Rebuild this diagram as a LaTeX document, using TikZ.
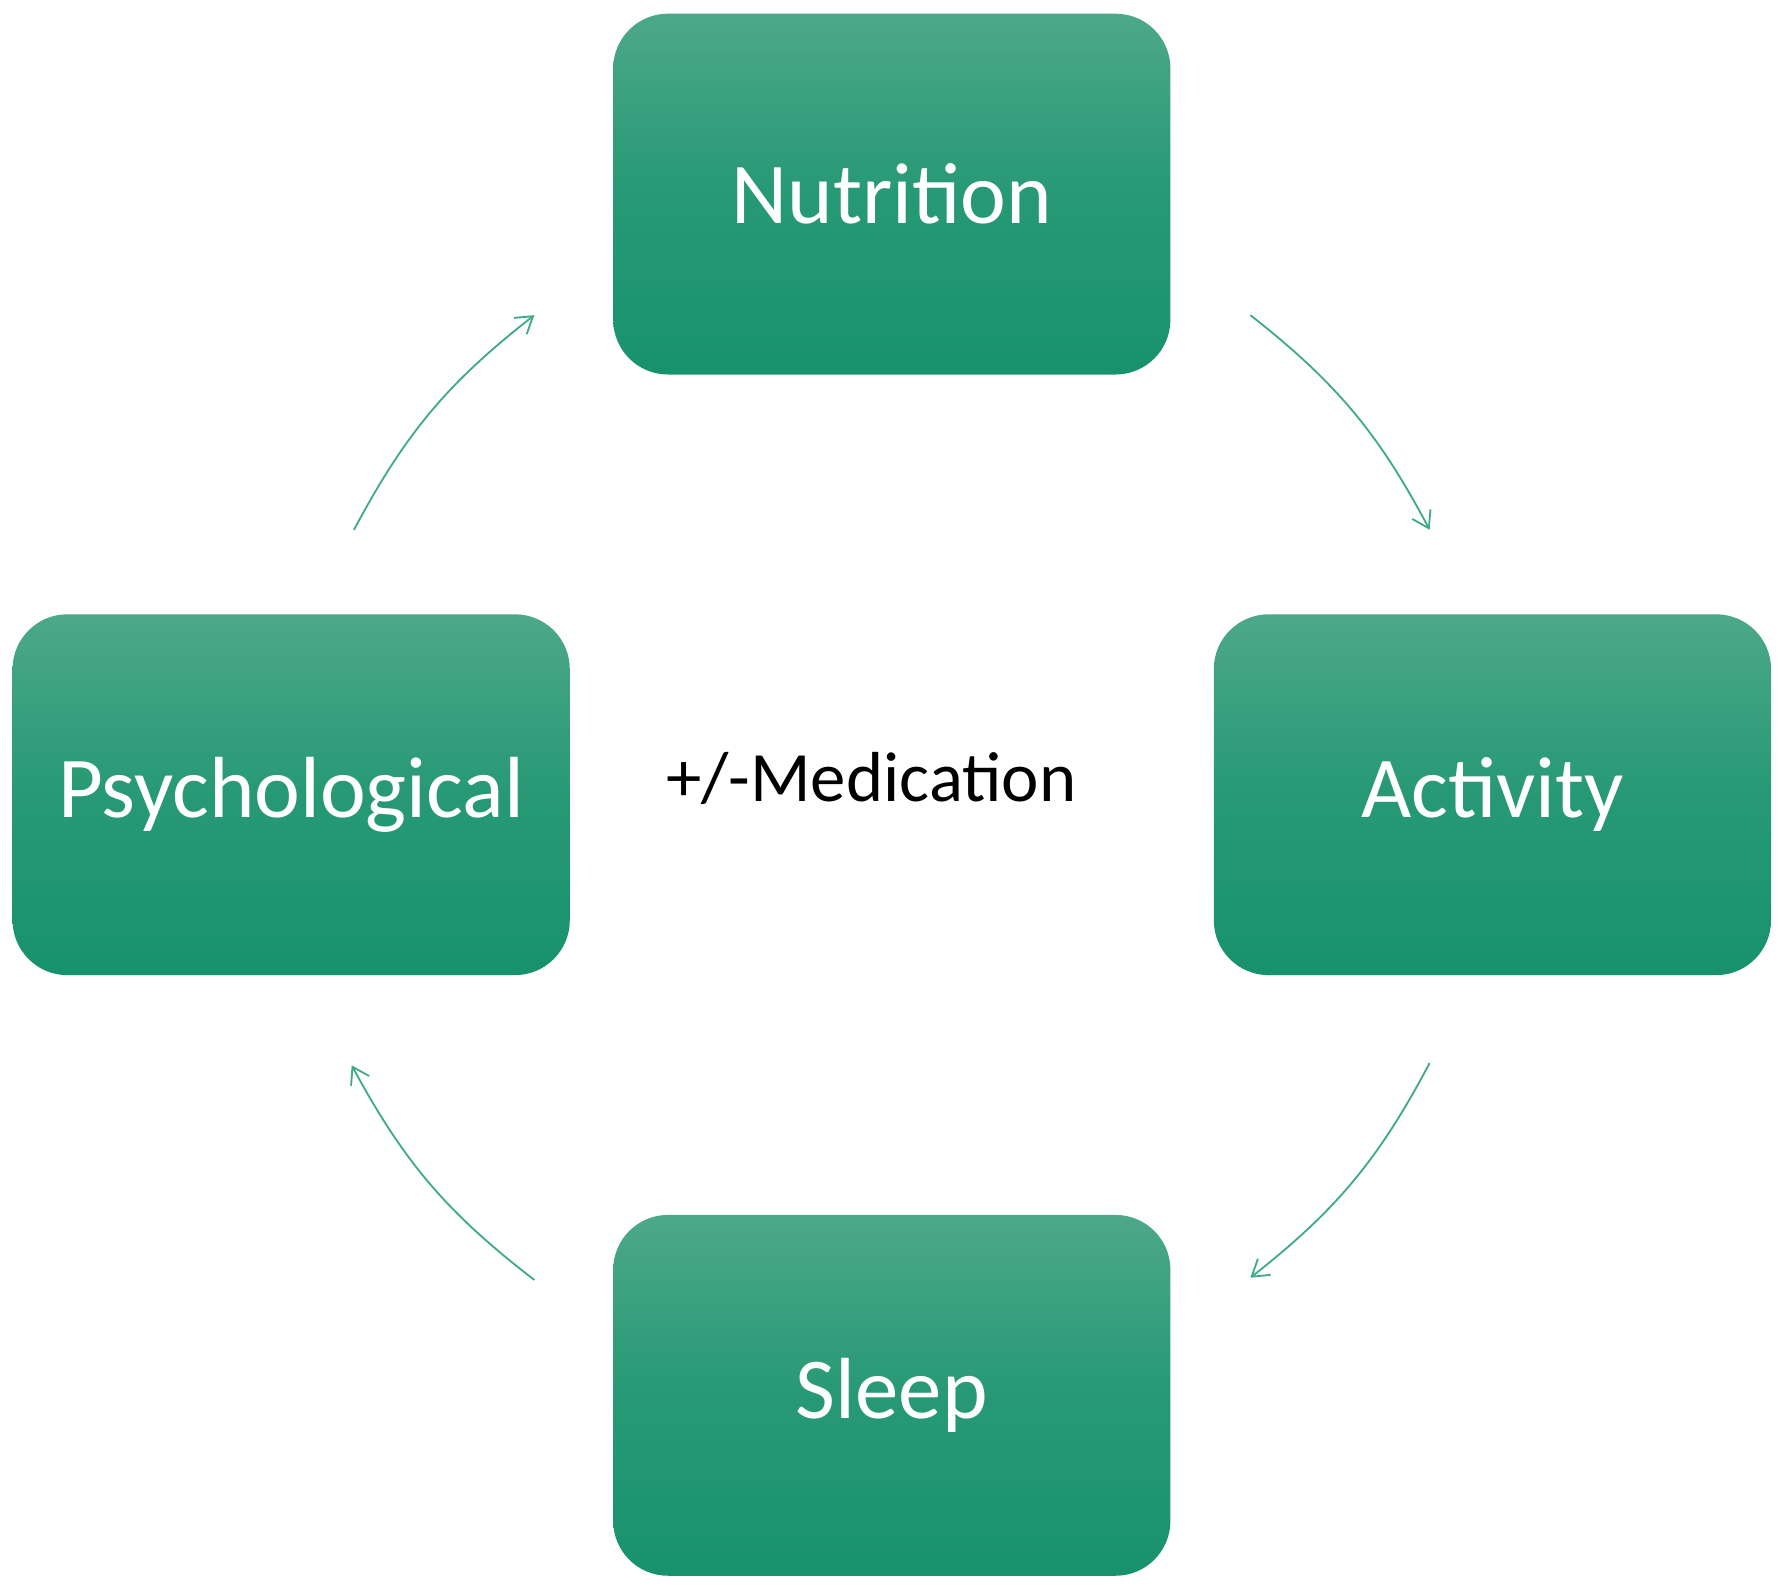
\documentclass[tikz,border=0pt]{standalone}
\usepackage{fontspec}
\setmainfont{Carlito}
\usetikzlibrary{arrows.meta}
\definecolor{gtop}{HTML}{4CA888}
\definecolor{gbot}{HTML}{17926D}
\definecolor{arr}{HTML}{3FAA8A}
\tikzset{
 box/.style={rounded corners=48pt, minimum width=488pt, minimum height=316pt, top color=gtop, bottom color=gbot, middle color=gbot!70!gtop, draw=none, text=white, font=\fontsize{76}{80}\selectfont, inner sep=0pt},
 link/.style={draw=arr, line width=1.6pt, -{Straight Barb[length=14pt,width=18pt]}}
}
\begin{document}
\begin{tikzpicture}[x=1pt,y=1pt]
\useasboundingbox (0,0) rectangle (1565,1391);
\node[box] (nut) at (781,1221) {Nutrition};
\node[box] (psy) at (255,695) {Psychological};
\node[box] (act) at (1307,695) {Activity};
\node[box] (slp) at (781,169) {Sleep};
\node[font=\fontsize{62}{66}\selectfont] (med) at (763,709) {+/-Medication};
\coordinate (a1) at (1095,1115); \coordinate (b1) at (1252,927);
\coordinate (a2) at (1252,460); \coordinate (b2) at (1095,272);
\coordinate (a3) at (468,270); \coordinate (b3) at (308,458);
\coordinate (a4) at (310,927); \coordinate (b4) at (468,1115);
\draw[link] (a1) to[bend left=12] (b1);
\draw[link] (a2) to[bend left=12] (b2);
\draw[link] (a3) to[bend left=12] (b3);
\draw[link] (a4) to[bend left=12] (b4);
\end{tikzpicture}
\end{document}
